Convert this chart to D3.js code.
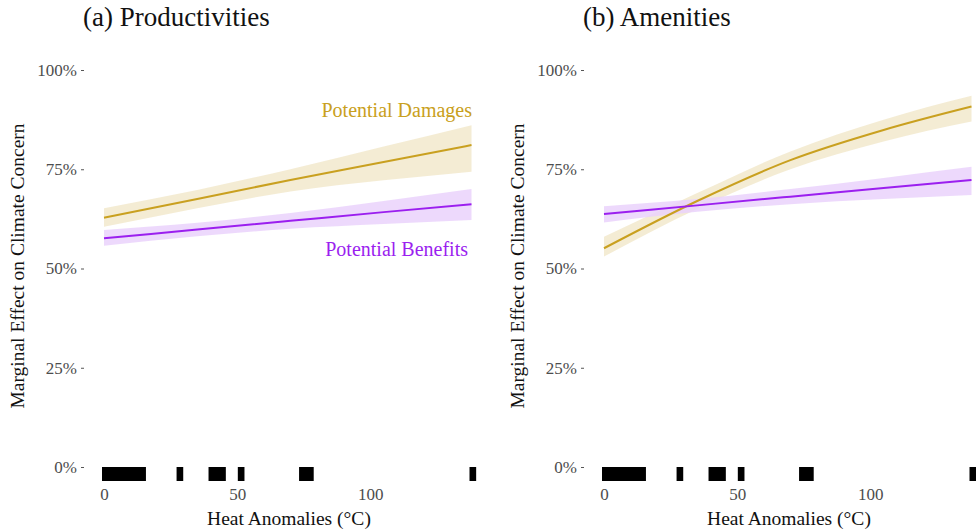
<!DOCTYPE html>
<html>
<head>
<meta charset="utf-8">
<script src="https://cdn.jsdelivr.net/npm/d3@7"></script>
<style>
  body { margin: 0; background: #fff; }
  svg text { font-family: "Liberation Serif", "DejaVu Serif", serif; }
</style>
</head>
<body>
<div id="chart"></div>
<script>
// heat anomaly values where the fitted curves are evaluated
var heatX = [0, 35, 70, 105, 138];

// panel a: productivities
var prodDamFit = [62.8, 67.5, 72.3, 76.8, 81.1];
var prodDamLo = [60.5, 65.2, 69.4, 72.2, 74.4];
var prodDamHi = [65.2, 69.8, 75.0, 80.7, 86.1];
var prodBenFit = [57.6, 59.8, 62.0, 64.2, 66.2];
var prodBenLo = [55.7, 58.1, 60.0, 61.2, 62.2];
var prodBenHi = [59.7, 61.5, 64.0, 67.0, 70.0];

// panel b: amenities
var amenDamFit = [55.1, 67.0, 77.3, 84.9, 90.8];
var amenDamLo = [53.0, 65.0, 75.0, 82.0, 87.0];
var amenDamHi = [58.0, 69.0, 79.5, 87.5, 93.5];
var amenBenFit = [63.7, 65.9, 68.1, 70.3, 72.3];
var amenBenLo = [61.6, 64.3, 66.2, 67.5, 68.5];
var amenBenHi = [65.7, 67.5, 70.0, 72.8, 75.6];

// observed heat anomalies (rug)
var rugValues = [0, 1, 2, 3, 4, 5, 6, 7, 8, 9, 10, 11, 12, 13, 14, 15,
  28, 29, 40, 41, 42, 43, 44, 45, 51, 52, 74, 75, 76, 77, 78, 138, 139];

var yTicks = [0, 25, 50, 75, 100];
var xTicks = [0, 50, 100];

var damColor = "#c9a020", damFill = "#f2e9cc";
var benColor = "#9b1fef", benFill = "#ead2fb";

var W = 976, H = 531;
var svg = d3.select("#chart").append("svg")
  .attr("width", W).attr("height", H);

var panels = [
  { title: "(a) Productivities", left: 0,
    dam: [prodDamFit, prodDamLo, prodDamHi], ben: [prodBenFit, prodBenLo, prodBenHi], labels: true },
  { title: "(b) Amenities", left: 500,
    dam: [amenDamFit, amenDamLo, amenDamHi], ben: [amenBenFit, amenBenLo, amenBenHi], labels: false }
];

panels.forEach(function (p) {
  var g = svg.append("g").attr("transform", "translate(" + p.left + ",0)");

  var x = d3.scaleLinear().domain([0, 138]).range([104, 471.5]);
  var y = d3.scaleLinear().domain([0, 100]).range([467, 70]);

  // title
  g.append("text")
    .attr("x", 83).attr("y", 26)
    .style("font-size", "27px").style("fill", "#111")
    .text(p.title);

  // y axis
  var yAxis = g.append("g")
    .attr("transform", "translate(84,0)")
    .call(d3.axisLeft(y).tickValues(yTicks).tickSize(3).tickPadding(4)
      .tickFormat(function (d) { return d + "%"; }));
  yAxis.select(".domain").remove();
  yAxis.selectAll(".tick line").attr("stroke", "#555");
  yAxis.selectAll(".tick text")
    .style("font-size", "17px").style("fill", "#4d4d4d")
    .style("font-family", "Liberation Serif, serif");

  // x axis (no tick marks shown)
  var xAxis = g.append("g")
    .attr("transform", "translate(0,485)")
    .call(d3.axisBottom(x).tickValues(xTicks).tickSize(0).tickPadding(3));
  xAxis.select(".domain").remove();
  xAxis.selectAll(".tick text")
    .style("font-size", "17px").style("fill", "#4d4d4d")
    .style("font-family", "Liberation Serif, serif");

  // axis titles
  g.append("text")
    .attr("x", 289).attr("y", 525)
    .attr("text-anchor", "middle")
    .style("font-size", "19.5px").style("fill", "#111")
    .text("Heat Anomalies (°C)");
  g.append("text")
    .attr("transform", "translate(24,266) rotate(-90)")
    .attr("text-anchor", "middle")
    .style("font-size", "19.5px").style("fill", "#111")
    .text("Marginal Effect on Climate Concern");

  var area = d3.area()
    .x(function (d, i) { return x(heatX[i]); })
    .y0(function (d) { return y(d[0]); })
    .y1(function (d) { return y(d[1]); })
    .curve(d3.curveMonotoneX);
  var line = d3.line()
    .x(function (d, i) { return x(heatX[i]); })
    .y(function (d) { return y(d); })
    .curve(d3.curveMonotoneX);

  [[p.dam, damFill, damColor], [p.ben, benFill, benColor]].forEach(function (s) {
    var band = d3.zip(s[0][1], s[0][2]);
    g.append("path").datum(band)
      .attr("d", area)
      .attr("fill", s[1])
      .attr("fill-opacity", 0.85);
  });
  [[p.dam, damColor], [p.ben, benColor]].forEach(function (s) {
    g.append("path").datum(s[0][0])
      .attr("d", line)
      .attr("fill", "none")
      .attr("stroke", s[1])
      .attr("stroke-width", 2);
  });

  // rug
  g.append("g").selectAll("line")
    .data(rugValues)
    .enter().append("line")
    .attr("x1", function (d) { return x(d); })
    .attr("x2", function (d) { return x(d); })
    .attr("y1", 467).attr("y2", 481)
    .attr("stroke", "#000")
    .attr("stroke-width", 4);

  if (p.labels) {
    g.append("text")
      .attr("x", 472).attr("y", 117)
      .attr("text-anchor", "end")
      .style("font-size", "20px").style("fill", damColor)
      .text("Potential Damages");
    g.append("text")
      .attr("x", 468).attr("y", 256)
      .attr("text-anchor", "end")
      .style("font-size", "20px").style("fill", benColor)
      .text("Potential Benefits");
  }
});
</script>
</body>
</html>
